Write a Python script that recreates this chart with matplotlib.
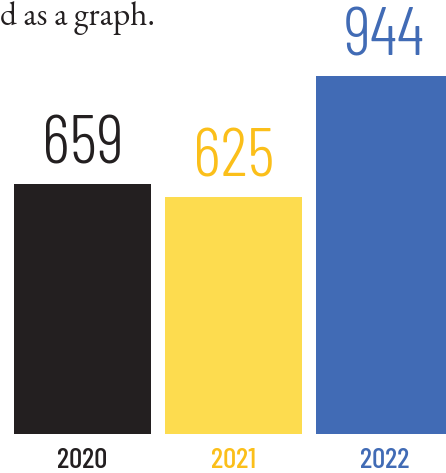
import matplotlib.pyplot as plt

years = ["2020", "2021", "2022"]
values = [659, 625, 944]
bar_colors = ["#231f20", "#fddc4f", "#416bb5"]
text_colors = ["#231f20", "#fbbf1a", "#416bb5"]

fig = plt.figure(figsize=(4.46, 4.73), dpi=100)
ax = fig.add_axes([0, 0, 1, 1])
ax.axis("off")

x = list(range(len(years)))
ax.bar(x, values, width=0.907, color=bar_colors)
ax.set_xlim(-0.546, 2.407)
ax.set_ylim(-102.8, 1144)

for xi, v, c, yr in zip(x, values, text_colors, years):
    ax.annotate(str(v), (xi, v), xytext=(0, 14.4), textcoords="offset points",
                ha="center", va="baseline", fontsize=49, color=c,
                family="Barlow Condensed", fontweight=300)
    ax.annotate(yr, (xi, 0), xytext=(0, -24.5), textcoords="offset points",
                ha="center", va="baseline", fontsize=21, color=c,
                family="Barlow Condensed", fontweight=500)

fig.text(0.0, 0.947, "d as a graph.", family="EB Garamond", fontsize=24,
         color="#231f20", ha="left", va="baseline")

fig.savefig("out.png", dpi=100)
